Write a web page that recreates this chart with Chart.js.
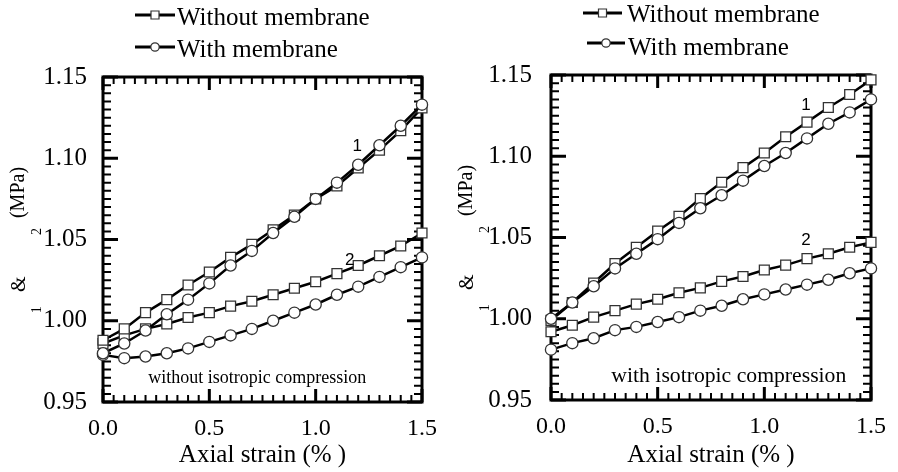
<!DOCTYPE html>
<html>
<head>
<meta charset="utf-8">
<script src="https://cdn.jsdelivr.net/npm/chart.js@4.4.1/dist/chart.umd.min.js"></script>
<style>
    body { margin: 0; background: #fff; }
    #wrap { position: relative; width: 898px; height: 472px; overflow: hidden; }
    .panel { position: absolute; top: 0; width: 449px; height: 472px; }
</style>
</head>
<body>
<div id="wrap">
    <div class="panel" style="left:0"><canvas id="graficoIzq" width="449" height="472"></canvas></div>
    <div class="panel" style="left:449px"><canvas id="graficoDer" width="449" height="472"></canvas></div>
</div>
<script>
// ===== datos =====
const strain = [0.0, 0.1, 0.2, 0.3, 0.4, 0.5, 0.6, 0.7, 0.8, 0.9, 1.0, 1.1, 1.2, 1.3, 1.4, 1.5];
const xTicks = [0.0, 0.5, 1.0, 1.5];
const yTicks = [0.95, 1.00, 1.05, 1.10, 1.15];
const legendLabels = ['Without membrane', 'With membrane'];
const panelNotes = ['without isotropic compression', 'with isotropic compression'];
const xTitle = 'Axial strain (% )';

// panel izquierdo: without isotropic compression
const left1Without = [0.988, 0.995, 1.005, 1.013, 1.022, 1.030, 1.039, 1.047, 1.056, 1.065, 1.075, 1.083, 1.094, 1.105, 1.117, 1.131];
const left1With    = [0.980, 0.986, 0.994, 1.004, 1.013, 1.023, 1.034, 1.043, 1.054, 1.064, 1.075, 1.085, 1.096, 1.108, 1.120, 1.133];
const left2Without = [0.986, 0.991, 0.995, 0.998, 1.002, 1.005, 1.009, 1.012, 1.016, 1.020, 1.024, 1.029, 1.034, 1.040, 1.046, 1.054];
const left2With    = [0.979, 0.977, 0.978, 0.980, 0.983, 0.987, 0.991, 0.995, 1.000, 1.005, 1.010, 1.016, 1.021, 1.027, 1.033, 1.039];

// panel derecho: with isotropic compression
const right1Without = [0.999, 1.010, 1.022, 1.034, 1.044, 1.054, 1.063, 1.074, 1.084, 1.093, 1.102, 1.112, 1.121, 1.130, 1.138, 1.147];
const right1With    = [1.000, 1.010, 1.020, 1.031, 1.040, 1.049, 1.059, 1.068, 1.076, 1.085, 1.094, 1.102, 1.111, 1.120, 1.127, 1.135];
const right2Without = [0.992, 0.996, 1.001, 1.005, 1.009, 1.012, 1.016, 1.019, 1.023, 1.026, 1.030, 1.033, 1.037, 1.040, 1.044, 1.047];
const right2With    = [0.981, 0.985, 0.988, 0.993, 0.995, 0.998, 1.001, 1.005, 1.008, 1.012, 1.015, 1.018, 1.021, 1.024, 1.028, 1.031];

const SERIF = "'Liberation Serif', 'Times New Roman', serif";
const SANS = "'Liberation Sans', Arial, sans-serif";

// marco con marcas hacia dentro en los cuatro lados
const marcoPlugin = {
    id: 'marco',
    beforeDatasetsDraw(chart) {
        const { ctx, chartArea: a, scales: { x, y } } = chart;
        ctx.save();
        ctx.strokeStyle = '#000';
        ctx.lineCap = 'butt';
        // x: cada 0.05, mayor cada 0.5
        for (let i = 0; i <= 30; i++) {
            const px = x.getPixelForValue(i * 0.05);
            const major = i % 10 === 0;
            const len = major ? 13 : 7;
            ctx.lineWidth = major ? 3 : 2;
            ctx.beginPath();
            ctx.moveTo(px, a.bottom); ctx.lineTo(px, a.bottom - len);
            ctx.moveTo(px, a.top); ctx.lineTo(px, a.top + len);
            ctx.stroke();
        }
        // y: cada 0.005, mayor cada 0.05
        for (let i = 0; i <= 40; i++) {
            const py = y.getPixelForValue(0.95 + i * 0.005);
            const major = i % 10 === 0;
            const len = major ? 15 : 8;
            ctx.lineWidth = major ? 3 : 2;
            ctx.beginPath();
            ctx.moveTo(a.left, py); ctx.lineTo(a.left + len, py);
            ctx.moveTo(a.right, py); ctx.lineTo(a.right - len, py);
            ctx.stroke();
        }
        ctx.lineWidth = 3;
        ctx.strokeRect(a.left, a.top, a.right - a.left, a.bottom - a.top);
        ctx.restore();
    },
    afterDraw(chart, args, opts) {
        const { ctx, chartArea: a, scales: { x, y } } = chart;
        ctx.save();
        ctx.fillStyle = '#000';

        // etiqueta del eje y (girada)
        const rot = (txt, cx, cy, font) => {
            ctx.save();
            ctx.translate(cx, cy);
            ctx.rotate(-Math.PI / 2);
            ctx.font = font;
            ctx.textAlign = 'center';
            ctx.textBaseline = 'middle';
            ctx.fillText(txt, 0, 0);
            ctx.restore();
        };
        rot('1', a.left - 66, y.getPixelForValue(1.00) - 11, '14px ' + SERIF);
        rot('&', a.left - 83, y.getPixelForValue(1.025) + 4, '20px ' + SERIF);
        rot('2', a.left - 66, y.getPixelForValue(1.05) - 8, '14px ' + SERIF);
        rot('(MPa)', a.left - 84, y.getPixelForValue(1.05) - 47, '20px ' + SERIF);

        // numeros de curva
        ctx.font = '17px ' + SANS;
        ctx.textAlign = 'center';
        ctx.textBaseline = 'middle';
        opts.curveTags.forEach(t => {
            ctx.fillText(t.text, x.getPixelForValue(t.x), y.getPixelForValue(t.y));
        });

        // nota del panel
        ctx.font = opts.noteSize + 'px ' + SERIF;
        ctx.textAlign = 'left';
        ctx.textBaseline = 'alphabetic';
        ctx.fillText(opts.note, x.getPixelForValue(opts.noteX), y.getPixelForValue(opts.noteY));

        // leyenda
        opts.legend.forEach((row, i) => {
            ctx.strokeStyle = '#000';
            ctx.lineWidth = 3;
            ctx.beginPath();
            ctx.moveTo(row.x1, row.y); ctx.lineTo(row.x2, row.y);
            ctx.stroke();
            const mx = (row.x1 + row.x2) / 2;
            ctx.fillStyle = '#fff';
            ctx.strokeStyle = '#333';
            ctx.lineWidth = 1.2;
            ctx.beginPath();
            if (i === 0) ctx.rect(mx - 4, row.y - 4, 8, 8);
            else ctx.arc(mx, row.y, 4.2, 0, Math.PI * 2);
            ctx.fill();
            ctx.stroke();
            ctx.fillStyle = '#000';
            ctx.font = '25px ' + SERIF;
            ctx.textAlign = 'left';
            ctx.textBaseline = 'alphabetic';
            ctx.fillText(legendLabels[i], row.tx, row.ty);
        });
        ctx.restore();
    }
};

function serie(valores, cuadrado) {
    return {
        label: cuadrado ? legendLabels[0] : legendLabels[1],
        data: strain.map((s, i) => ({ x: s, y: valores[i] })),
        borderColor: '#000',
        borderWidth: 2.5,
        pointStyle: cuadrado ? 'rect' : 'circle',
        pointRadius: cuadrado ? 7 : 5.6,
        pointBackgroundColor: '#fff',
        pointBorderColor: '#333',
        pointBorderWidth: 1.3,
        tension: 0,
        clip: false
    };
}

function crearPanel(id, series, caja, extra) {
    new Chart(document.getElementById(id).getContext('2d'), {
        type: 'line',
        data: { datasets: series },
        options: {
            responsive: false,
            animation: false,
            events: [],
            layout: { padding: { left: 0, right: caja.padRight, top: caja.top, bottom: 0 } },
            plugins: {
                legend: { display: false },
                tooltip: { enabled: false },
                marco: extra
            },
            scales: {
                x: {
                    type: 'linear',
                    min: 0, max: 1.5,
                    afterBuildTicks: s => { s.ticks = xTicks.map(v => ({ value: v })); },
                    afterFit: s => { s.height = caja.xHeight; },
                    grid: { display: false, drawTicks: false },
                    border: { display: false },
                    ticks: {
                        padding: caja.xPad,
                        maxRotation: 0,
                        color: '#000',
                        font: { family: SERIF, size: 24 },
                        callback: v => Number(v).toFixed(1)
                    },
                    title: {
                        display: true,
                        text: xTitle,
                        color: '#000',
                        font: { family: SERIF, size: 25 },
                        padding: { top: 0, bottom: 2 }
                    }
                },
                y: {
                    min: 0.95, max: 1.15,
                    afterBuildTicks: s => { s.ticks = yTicks.map(v => ({ value: v })); },
                    afterFit: s => { s.width = caja.yWidth; },
                    grid: { display: false, drawTicks: false },
                    border: { display: false },
                    ticks: {
                        padding: caja.yPad,
                        color: '#000',
                        font: { family: SERIF, size: 25 },
                        callback: v => Number(v).toFixed(2)
                    }
                }
            }
        },
        plugins: [marcoPlugin]
    });
}

crearPanel('graficoIzq',
    [serie(left1With, false), serie(left1Without, true), serie(left2With, false), serie(left2Without, true)],
    { padRight: 15, top: 77, yWidth: 103, xHeight: 70, xPad: 12, yPad: 16 },
    {
        curveTags: [{ text: '1', x: 1.195, y: 1.1075 }, { text: '2', x: 1.16, y: 1.037 }],
        note: panelNotes[0], noteSize: 18, noteX: 0.213, noteY: 0.9617,
        legend: [
            { x1: 135, x2: 175, y: 15, tx: 177, ty: 25 },
            { x1: 135, x2: 175, y: 47, tx: 177, ty: 57 }
        ]
    });

crearPanel('graficoDer',
    [serie(right1With, false), serie(right1Without, true), serie(right2With, false), serie(right2Without, true)],
    { padRight: 18, top: 75, yWidth: 102, xHeight: 72, xPad: 12, yPad: 19 },
    {
        curveTags: [{ text: '1', x: 1.195, y: 1.1315 }, { text: '2', x: 1.195, y: 1.0485 }],
        note: panelNotes[1], noteSize: 21.7, noteX: 0.283, noteY: 0.961,
        legend: [
            { x1: 134, x2: 173, y: 13, tx: 178, ty: 22 },
            { x1: 138, x2: 176, y: 43, tx: 179, ty: 55 }
        ]
    });
</script>
</body>
</html>
